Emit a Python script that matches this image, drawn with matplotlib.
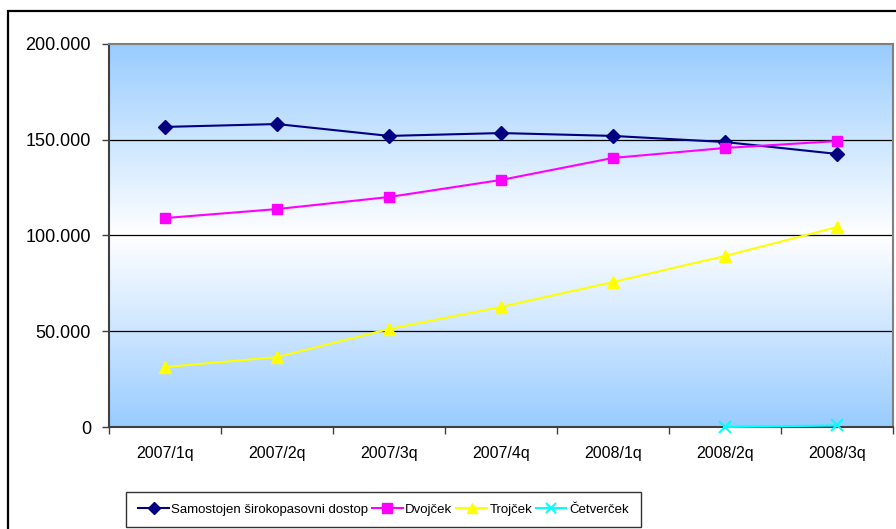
import numpy as np
import matplotlib
import matplotlib.pyplot as plt
from matplotlib.colors import LinearSegmentedColormap
from matplotlib.patches import Rectangle
from matplotlib.ticker import FuncFormatter
matplotlib.use('Agg')

plt.rcParams['font.family'] = ['Liberation Sans', 'DejaVu Sans']

categories = ["2007/1q", "2007/2q", "2007/3q", "2007/4q", "2008/1q", "2008/2q", "2008/3q"]
samostojen = [156700, 158200, 152000, 153500, 152000, 148800, 142600]
dvojcek = [109100, 113800, 120100, 129000, 140500, 145700, 149300]
trojcek = [31300, 36500, 51200, 62700, 75700, 89300, 104400]
cetvercek = [np.nan, np.nan, np.nan, np.nan, np.nan, 0, 800]

fig = plt.figure(figsize=(8.96, 5.29), dpi=100)
ax = fig.add_axes([109 / 896, 1 - 427 / 529, 784 / 896, 383 / 529])

# outer chart frame (runs off the right and bottom edge)
fig.patches.append(Rectangle((8 / 896, -0.1), 1.0, 1.1 - 11 / 529,
                             transform=fig.transFigure, fill=False,
                             edgecolor="black", linewidth=1.6, zorder=0))

x = np.arange(len(categories))

# gradient background: blue - white - blue
cmap = LinearSegmentedColormap.from_list("bg", ["#99CCFF", "#FFFFFF", "#99CCFF"])
grad = np.linspace(0, 1, 256).reshape(-1, 1)
ax.imshow(grad, cmap=cmap, aspect="auto", extent=[-0.5, len(x) - 0.5, 0, 200000],
          origin="lower", zorder=0)

ax.set_xlim(-0.5, len(x) - 0.5)
ax.set_ylim(0, 200000)

for yv in [50000, 100000, 150000]:
    ax.axhline(yv, color="black", linewidth=0.9, zorder=1)

ax.plot(x, samostojen, color="#000080", marker="D", markersize=7, linewidth=1.5,
        label="Samostojen širokopasovni dostop", zorder=3)
ax.plot(x, dvojcek, color="#FF00FF", marker="s", markersize=7.5, linewidth=1.5,
        label="Dvojček", zorder=3)
ax.plot(x, trojcek, color="#FFFF00", marker="^", markersize=8.5, linewidth=1.5,
        label="Trojček", zorder=3)
ax.plot(x, cetvercek, color="#00FFFF", marker="x", markersize=8, markeredgewidth=1.5,
        linewidth=1.5, label="Četverček", zorder=4, clip_on=False)

ax.set_xticks(x)
ax.set_xticklabels(categories, fontsize=11.5)
ax.set_xticks(np.arange(-0.5, len(x)), minor=True)
ax.tick_params(axis="x", which="major", length=0, pad=14)
ax.tick_params(axis="x", which="minor", length=5, color="#404040", width=1)

ax.set_yticks([0, 50000, 100000, 150000, 200000])
ax.yaxis.set_major_formatter(FuncFormatter(
    lambda v, p: "0" if v == 0 else f"{int(v):,}".replace(",", ".")))
ax.tick_params(axis="y", length=5, color="#404040", width=1, labelsize=13, pad=8)

for s in ["left", "bottom"]:
    ax.spines[s].set_color("#404040")
    ax.spines[s].set_linewidth(1.5)
for s in ["top", "right"]:
    ax.spines[s].set_color("#808080")
    ax.spines[s].set_linewidth(1.5)

leg = fig.legend(loc="center", bbox_to_anchor=((133 + 634) / 2 / 896, 1 - 509.5 / 529),
                 ncol=4, fontsize=9.5, frameon=True, fancybox=False, edgecolor="black",
                 handlelength=2.3, handletextpad=0.2, columnspacing=0.3,
                 borderpad=0.9, borderaxespad=0, markerscale=0.9)
leg.get_frame().set_linewidth(1)

plt.savefig("out.png", dpi=100)
